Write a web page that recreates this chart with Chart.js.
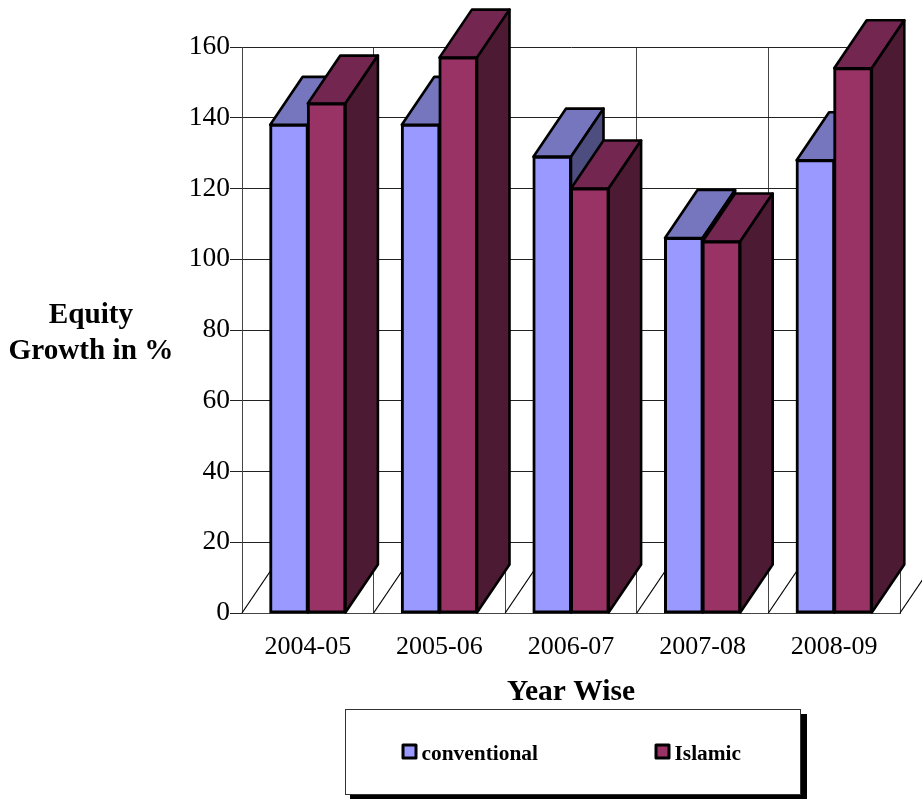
<!DOCTYPE html>
<html>
<head>
<meta charset="utf-8">
<title>Equity Growth</title>
<script src="https://cdn.jsdelivr.net/npm/chart.js@4"></script>
<style>
  html, body { margin: 0; padding: 0; background: #fff; }
  #wrap { width: 922px; height: 799px; overflow: hidden; }
</style>
</head>
<body>
<div id="wrap"><canvas id="equityChart" width="922" height="799"></canvas></div>
<script>
const years = ['2004-05', '2005-06', '2006-07', '2007-08', '2008-09'];
const conventional = [138, 138, 129, 106, 128];
const islamic = [144, 157, 120, 105, 154];
const yTicksMax = 160;
const yTickStep = 20;
const yTitleLines = ['Equity', 'Growth in %'];
const xTitle = 'Year Wise';

const serif = '"Liberation Serif", "Times New Roman", serif';
const depthX = 32.5;
const depthY = 48;

const palette = {
  conventional: { front: '#9999ff', top: '#7676bf', side: '#4d4d80' },
  islamic: { front: '#993366', top: '#732650', side: '#4d1a33' }
};

function face(ctx, points, fill) {
  ctx.beginPath();
  points.forEach(([x, y], i) => (i ? ctx.lineTo(x, y) : ctx.moveTo(x, y)));
  ctx.closePath();
  ctx.fillStyle = fill;
  ctx.fill();
  ctx.stroke();
}

// top and side of each bar, plus the slanted floor lines; the fronts are the real bars
const depthFaces = {
  id: 'depthFaces',
  beforeDatasetsDraw(chart) {
    const { ctx, chartArea, scales } = chart;
    ctx.save();

    ctx.strokeStyle = '#000';
    ctx.lineWidth = 1.2;
    for (let i = 0; i <= years.length; i++) {
      const x = chartArea.left + (i * chartArea.width) / years.length;
      ctx.beginPath();
      ctx.moveTo(x, scales.y.bottom);
      ctx.lineTo(x + depthX, scales.y.bottom - depthY);
      ctx.stroke();
    }

    ctx.lineWidth = 2.6;
    ctx.lineJoin = 'round';
    years.forEach((_, idx) => {
      [palette.conventional, palette.islamic].forEach((colors, dsIdx) => {
        const bar = chart.getDatasetMeta(dsIdx).data[idx];
        const left = bar.x - bar.width / 2;
        const right = bar.x + bar.width / 2;
        face(ctx, [
          [left, bar.y],
          [left + depthX, bar.y - depthY],
          [right + depthX, bar.y - depthY],
          [right, bar.y]
        ], colors.top);
        face(ctx, [
          [right, bar.y],
          [right + depthX, bar.y - depthY],
          [right + depthX, bar.base - depthY],
          [right, bar.base]
        ], colors.side);
      });
    });
    ctx.restore();
  }
};

const sideTitle = {
  id: 'sideTitle',
  afterDraw(chart) {
    const { ctx } = chart;
    ctx.save();
    ctx.font = `bold 29.2px ${serif}`;
    ctx.fillStyle = '#000';
    ctx.textAlign = 'center';
    ctx.textBaseline = 'middle';
    yTitleLines.forEach((line, i) => ctx.fillText(line, 91, 315 + i * 36));
    ctx.restore();
  }
};

const legendBox = {
  id: 'legendBox',
  afterDraw(chart) {
    const { ctx } = chart;
    ctx.save();
    ctx.fillStyle = '#000';
    ctx.fillRect(350, 714, 457, 85);
    ctx.fillStyle = '#fff';
    ctx.strokeStyle = '#333';
    ctx.lineWidth = 1;
    ctx.fillRect(345, 709, 456, 86);
    ctx.strokeRect(345.5, 709.5, 455, 85);

    ctx.font = `bold 21.4px ${serif}`;
    ctx.textBaseline = 'middle';
    [[402, palette.conventional.front], [655, palette.islamic.front]].forEach(([x, color], i) => {
      ctx.fillStyle = color;
      ctx.strokeStyle = '#000';
      ctx.lineWidth = 3;
      ctx.lineJoin = 'round';
      ctx.fillRect(x + 1, 745, 13, 13);
      ctx.strokeRect(x + 1, 745, 13, 13);
      ctx.fillStyle = '#000';
      ctx.fillText(chart.data.datasets[i].label, x + 19.5, 754);
    });
    ctx.restore();
  }
};

new Chart(document.getElementById('equityChart'), {
  type: 'bar',
  data: {
    labels: years,
    datasets: [
      {
        label: 'conventional',
        data: conventional,
        backgroundColor: palette.conventional.front,
        borderColor: '#000',
        borderWidth: 3,
        borderSkipped: false,
        inflateAmount: 1
      },
      {
        label: 'Islamic',
        data: islamic,
        backgroundColor: palette.islamic.front,
        borderColor: '#000',
        borderWidth: 3,
        borderSkipped: false,
        inflateAmount: 1
      }
    ]
  },
  options: {
    responsive: false,
    animation: false,
    clip: false,
    categoryPercentage: 0.5714,
    barPercentage: 1,
    layout: { padding: { top: 47, right: 22, left: 0, bottom: 0 } },
    plugins: {
      legend: { display: false },
      tooltip: { enabled: false }
    },
    scales: {
      x: {
        afterFit: (scale) => { scale.height = 186; },
        grid: { color: '#444', lineWidth: 1, tickLength: 0, offset: true },
        border: { color: '#444' },
        ticks: { color: '#000', font: { family: serif, size: 26 }, padding: 19, maxRotation: 0 },
        title: {
          display: true,
          text: xTitle,
          color: '#000',
          font: { family: serif, size: 29.5, weight: 'bold' },
          padding: { top: 12, bottom: 89 }
        }
      },
      y: {
        min: 0,
        max: yTicksMax,
        afterFit: (scale) => { scale.width = 242; },
        grid: { color: '#222', lineWidth: 1, tickLength: 12 },
        border: { color: '#444' },
        ticks: { stepSize: yTickStep, color: '#000', font: { family: serif, size: 27.5 }, padding: 0 }
      }
    }
  },
  plugins: [depthFaces, sideTitle, legendBox]
});
</script>
</body>
</html>
